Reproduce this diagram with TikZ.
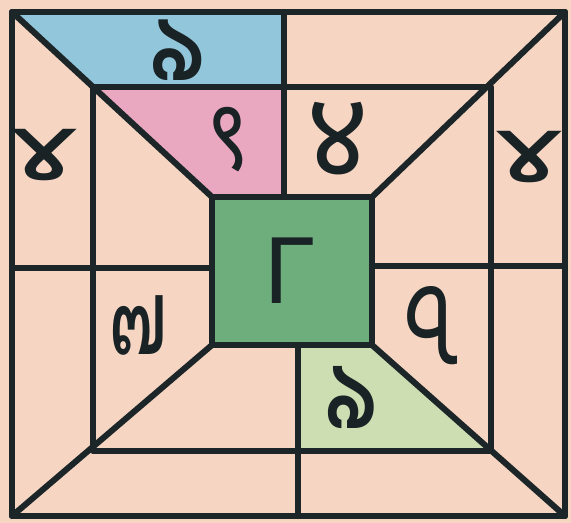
\documentclass[tikz,border=0pt]{standalone}
\usepackage{fontspec}
\usetikzlibrary{calc}
\newfontfamily\bengfont[Script=Bengali]{Hind Siliguri}
\newfontfamily\devafont[Script=Devanagari]{Noto Sans}
\newfontfamily\thaifont[Script=Thai]{Loma}
\newfontfamily\symfont{DejaVu Sans}
\definecolor{paper}{RGB}{246,213,194}
\definecolor{ink}{RGB}{28,38,40}
\definecolor{skyblue}{RGB}{146,198,218}
\definecolor{rosepink}{RGB}{233,168,192}
\definecolor{midgreen}{RGB}{110,174,124}
\definecolor{palegreen}{RGB}{204,222,178}
\begin{document}
\begin{tikzpicture}[
x=0.025cm, y=-0.025cm,
frame/.style={draw=ink, line width=4.3pt, line cap=round, line join=round},
patch/.style={fill=#1, draw=none},
numeral/.style={inner sep=0pt, text=ink!90!black, font=\fontsize{#1}{#1}\selectfont}
]
\useasboundingbox[fill=paper] (0,0) rectangle (571,523);

% Corners
\coordinate (otl) at (12,12);
\coordinate (otr) at (565,12);
\coordinate (obr) at (565,516);
\coordinate (obl) at (12,516);
\coordinate (itl) at (212,197);
\coordinate (itr) at (372,197);
\coordinate (ibr) at (372,345);
\coordinate (ibl) at (212,345);
\coordinate (mtl) at (93,87);
\coordinate (mbr) at (491,451);

% Coloured fields
\fill[patch=skyblue] (otl) -- (284,12) -- (284,87) -- ($(otl)!0.405!(itl)$) -- cycle;
\fill[patch=rosepink] ($(otl)!0.405!(itl)$) -- (284,87) -- (284,197) -- (itl) -- cycle;
\fill[patch=midgreen] (itl) rectangle (ibr);
\fill[patch=palegreen] (298,345) -- (ibr) -- ($(obr)!0.38!(ibr)$) -- (298,451) -- cycle;

% Squares
\draw[frame] (otl) rectangle (obr);
\draw[frame] (mtl) rectangle (mbr);
\draw[frame] (itl) rectangle (ibr);

% Diagonals
\draw[frame] (otl) -- (itl);
\draw[frame] (otr) -- (itr);
\draw[frame] (obr) -- (ibr);
\draw[frame] (obl) -- (ibl);

% Dividers
\draw[frame] (284,12) -- (284,197);
\draw[frame] (298,345) -- (298,516);
\draw[frame] (12,268) -- (212,268);
\draw[frame] (372,266) -- (565,266);

% Numerals
\node[numeral=76] (topone) at (178,50) {\scalebox{0.78}[0.86]{\bengfont\bfseries ৯}};
\node[numeral=70] (pinknine) at (228,140) {\scalebox{0.85}[1]{\devafont\bfseries ९}};
\node[numeral=86] (four) at (338,140) {\devafont\bfseries ४};
\node[numeral=64] (leftfive) at (44,155) {\scalebox{1.45}[1.02]{\symfont ɤ}};
\node[numeral=64] (rightfive) at (529,157) {\scalebox{1.45}[1.02]{\symfont ɤ}};
\node[numeral=64] (centre) at (289,271) {\symfont Γ};
\node[numeral=66] (seven) at (138,325) {\scalebox{0.85}[1.15]{\thaifont ๗}};
\node[numeral=84] (rightnine) at (432,326) {\scalebox{0.85}[1]{\bengfont ৭}};
\node[numeral=76] (bottomone) at (352,398) {\scalebox{0.74}[0.88]{\bengfont\bfseries ৯}};
\end{tikzpicture}
\end{document}
